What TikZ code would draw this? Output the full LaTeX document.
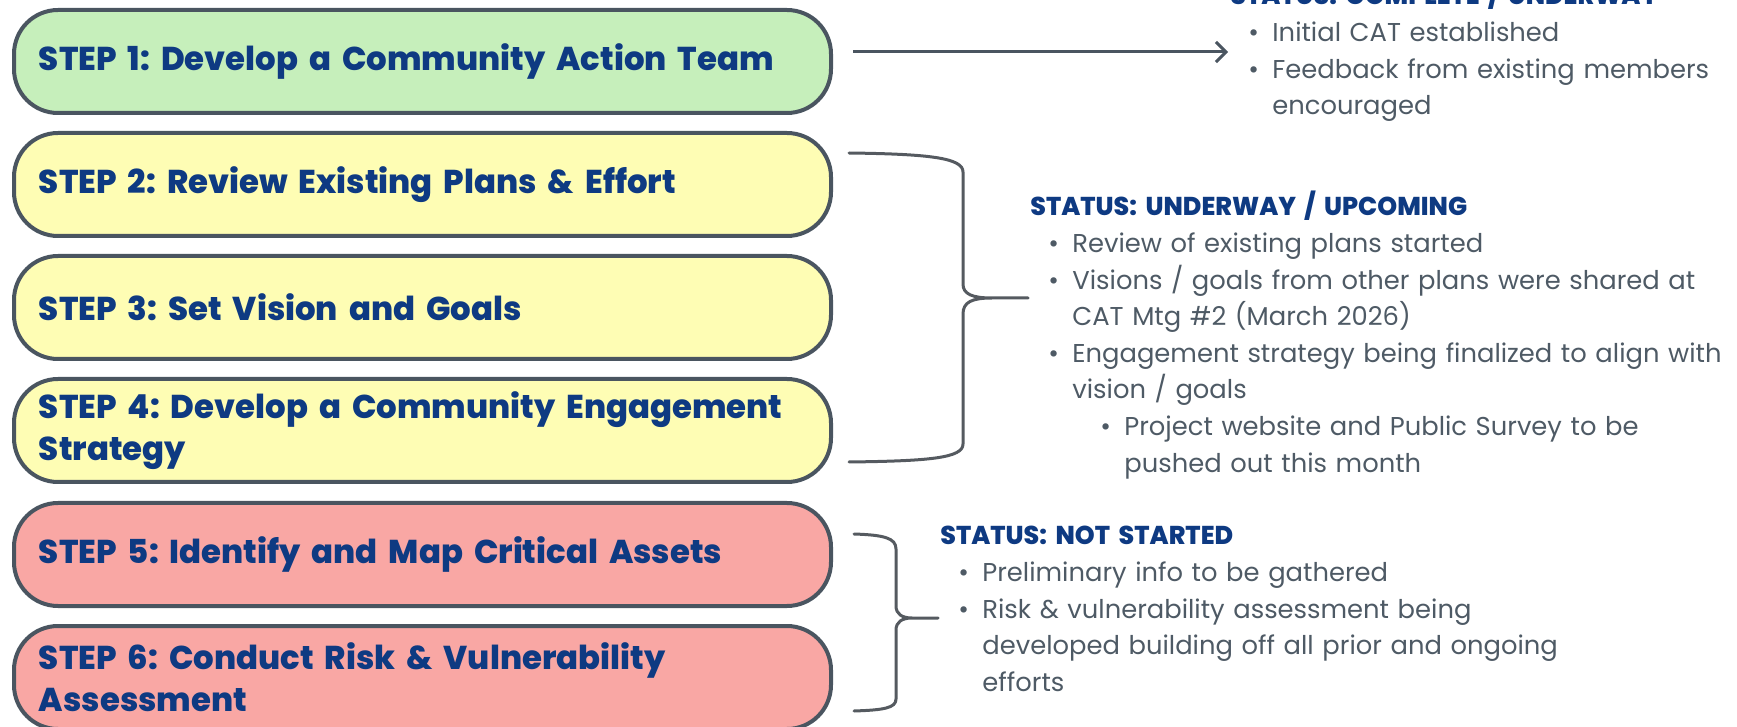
\documentclass[tikz,border=0pt]{standalone}
\usepackage{fontspec}
\setmainfont{Poppins}[BoldFont={Poppins ExtraBold}, BoldFeatures={FakeStretch=0.98}]
\usetikzlibrary{arrows.meta}
\frenchspacing

\definecolor{stepgreen}{HTML}{C6EFBB}
\definecolor{stepyellow}{HTML}{FEFDB4}
\definecolor{steppink}{HTML}{F9A7A4}
\definecolor{edgegray}{HTML}{4A5560}
\definecolor{stepblue}{HTML}{0E3A82}
\definecolor{bodygray}{HTML}{4E5A65}
\definecolor{bracegray}{HTML}{555A60}

\newcommand{\statushead}[1]{\noindent{\color{stepblue}\bfseries #1}}
\newcommand{\bul}[1]{\par\hangindent=21pt\hangafter=1\noindent\hspace*{9pt}\makebox[12pt][l]{\textbullet}#1}
\newcommand{\subbul}[1]{\par\hangindent=47pt\hangafter=1\noindent\hspace*{35pt}\makebox[12pt][l]{\textbullet}#1}

\tikzset{
  stepbox/.style={draw=edgegray, line width=2pt, rounded corners=22pt,
    minimum width=408.5pt, minimum height=51.5pt, text width=383.5pt,
    inner xsep=12.5pt, align=left, text=stepblue,
    font=\fontsize{16.5}{21}\selectfont\bfseries},
  statustext/.style={anchor=base west, inner sep=0pt, text width=400pt,
    align=left, text=bodygray, font=\fontsize{12.9}{18.3}\selectfont},
  bracket/.style={draw=bracegray, line width=1.5pt, line cap=round, line join=round},
  pointer/.style={draw=edgegray, line width=1.5pt, -{Straight Barb[length=5pt, width=10pt]}}
}

\begin{document}
\begin{tikzpicture}[x=0.5pt, y=-0.5pt]
  \useasboundingbox (0,0) rectangle (1737,727);

  % steps
  \node[stepbox, fill=stepgreen] (step1) at (422.5,61.5) {STEP 1: Develop a Community Action Team};
  \node[stepbox, fill=stepyellow] (step2) at (422.5,184.5) {STEP 2: Review Existing Plans \& Effort};
  \node[stepbox, fill=stepyellow] (step3) at (422.5,307.5) {STEP 3: Set Vision and Goals};
  \node[stepbox, fill=stepyellow] (step4) at (422.5,430.5) {STEP 4: Develop a Community Engagement\\Strategy};
  \node[stepbox, fill=steppink] (step5) at (422.5,554.5) {STEP 5: Identify and Map Critical Assets};
  \node[stepbox, fill=steppink] (step6) at (422.5,677.5) {STEP 6: Conduct Risk \& Vulnerability\\Assessment};

  % status notes
  \node[statustext] (status1) at (1230,5) {\statushead{STATUS: COMPLETE / UNDERWAY}
    \bul{Initial CAT established}
    \bul{Feedback from existing members\newline encouraged}\par};
  \node[statustext] (status2) at (1030,216) {\statushead{STATUS: UNDERWAY / UPCOMING}
    \bul{Review of existing plans started}
    \bul{Visions / goals from other plans were shared at\newline CAT Mtg \#2 (March 2026)}
    \bul{Engagement strategy being finalized to align with\newline vision / goals}
    \subbul{Project website and Public Survey to be\newline pushed out this month}\par};
  \node[statustext] (status3) at (940,545) {\statushead{STATUS: NOT STARTED}
    \bul{Preliminary info to be gathered}
    \bul{Risk \& vulnerability assessment being\newline developed building off all prior and ongoing\newline efforts}\par};

  % arrow for step 1
  \coordinate (arrowstart) at (853,52);
  \coordinate (arrowend) at (1228,52);
  \draw[pointer] (arrowstart) -- (arrowend);

  % brace for steps 2-4
  \draw[bracket] (849,153) .. controls (930,154) and (963,158) .. (963,172)
    -- (963,284) .. controls (963,294) and (972,298) .. (992,298) -- (1028,298)
    -- (992,298) .. controls (972,298) and (963,302) .. (963,314)
    -- (963,444) .. controls (963,458) and (930,461) .. (849,462);

  % brace for steps 5-6
  \draw[bracket] (854,534) .. controls (884,535) and (896,538) .. (896,549)
    -- (896,606) .. controls (896,614) and (902,618) .. (912,618) -- (938,618)
    -- (912,618) .. controls (902,618) and (896,622) .. (896,630)
    -- (896,699) .. controls (896,708) and (884,710) .. (854,711);
\end{tikzpicture}
\end{document}
